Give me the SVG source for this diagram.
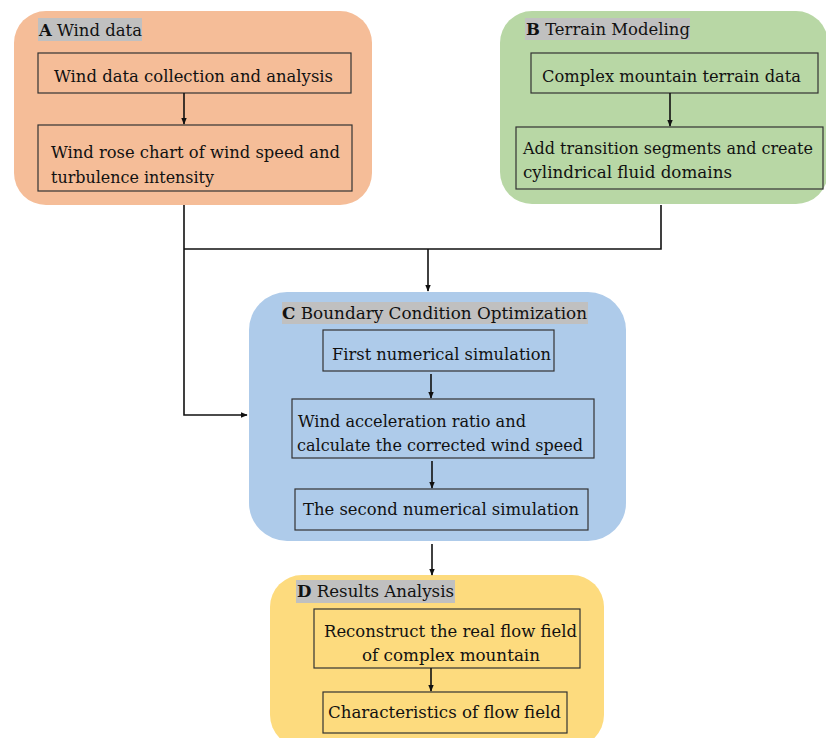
<svg xmlns="http://www.w3.org/2000/svg" width="826" height="738" viewBox="0 0 826 738">
<defs>
<style>
text{font-family:"DejaVu Serif","Liberation Serif",serif;font-size:17.5px;fill:#111}
.b{font-weight:bold}
.box{fill:none;stroke:#333;stroke-width:1.2}
.hl{fill:#c0c0c0}
.ln{fill:none;stroke:#111;stroke-width:1.6}
</style>
<marker id="ah" viewBox="0 0 10 10" refX="9" refY="5" markerWidth="7" markerHeight="7" markerUnits="userSpaceOnUse" orient="auto"><path d="M0,1 L10,5 L0,9 Z" fill="#111"/></marker>
</defs>
<rect width="826" height="738" fill="#fff"/>
<g id="panelA">
<rect x="14" y="11" width="358" height="194" rx="32" fill="#F5BD98"/>
<rect class="hl" x="38" y="18" width="104" height="23"/>
<text x="39" y="36" textLength="103" lengthAdjust="spacingAndGlyphs"><tspan class="b">A</tspan> Wind data</text>
<g id="a1"><rect class="box" x="38" y="53" width="313" height="40"/><text x="54" y="82" textLength="279" lengthAdjust="spacingAndGlyphs">Wind data collection and analysis</text></g>
<g id="a2"><rect class="box" x="38" y="125" width="314" height="66"/><text x="51" y="158" textLength="289" lengthAdjust="spacingAndGlyphs">Wind rose chart of wind speed and</text><text x="51" y="183" textLength="163" lengthAdjust="spacingAndGlyphs">turbulence intensity</text></g>
</g>
<g id="panelB">
<rect x="500" y="11" width="328" height="193" rx="32" fill="#B8D7A5"/>
<rect class="hl" x="525" y="18" width="165" height="22"/>
<text x="526" y="35" textLength="164" lengthAdjust="spacingAndGlyphs"><tspan class="b">B</tspan> Terrain Modeling</text>
<g id="b1"><rect class="box" x="531" y="53" width="287" height="40"/><text x="542" y="82" textLength="259" lengthAdjust="spacingAndGlyphs">Complex mountain terrain data</text></g>
<g id="b2"><rect class="box" x="516" y="127" width="307" height="62"/><text x="523" y="154" textLength="290" lengthAdjust="spacingAndGlyphs">Add transition segments and create</text><text x="523" y="178" textLength="209" lengthAdjust="spacingAndGlyphs">cylindrical fluid domains</text></g>
</g>
<g id="panelC">
<rect x="249" y="292" width="377" height="249" rx="38" fill="#AECBEA"/>
<rect class="hl" x="282" y="302" width="306" height="22"/>
<text x="282" y="319" textLength="305" lengthAdjust="spacingAndGlyphs"><tspan class="b">C</tspan> Boundary Condition Optimization</text>
<g id="c1"><rect class="box" x="323" y="330" width="231" height="41"/><text x="332" y="360" textLength="219" lengthAdjust="spacingAndGlyphs">First numerical simulation</text></g>
<g id="c2"><rect class="box" x="292" y="399" width="302" height="59"/><text x="298" y="427" textLength="228" lengthAdjust="spacingAndGlyphs">Wind acceleration ratio and</text><text x="297" y="451" textLength="286" lengthAdjust="spacingAndGlyphs">calculate the corrected wind speed</text></g>
<g id="c3"><rect class="box" x="295" y="489" width="293" height="41"/><text x="303" y="515" textLength="276" lengthAdjust="spacingAndGlyphs">The second numerical simulation</text></g>
</g>
<g id="panelD">
<rect x="270" y="575" width="334" height="172" rx="32" fill="#FDDB7E"/>
<rect class="hl" x="296" y="580" width="159" height="23"/>
<text x="297" y="597" textLength="157" lengthAdjust="spacingAndGlyphs"><tspan class="b">D</tspan> Results Analysis</text>
<g id="d1"><rect class="box" x="314" y="609" width="266" height="59"/><text x="324" y="637" textLength="253" lengthAdjust="spacingAndGlyphs">Reconstruct the real flow field</text><text x="362" y="661" textLength="178" lengthAdjust="spacingAndGlyphs">of complex mountain</text></g>
<g id="d2"><rect class="box" x="323" y="692" width="244" height="41"/><text x="328" y="718" textLength="233" lengthAdjust="spacingAndGlyphs">Characteristics of flow field</text></g>
</g>
<g id="connectors">
<path class="ln" d="M184,93 V124" marker-end="url(#ah)"/>
<path class="ln" d="M670,93 V126" marker-end="url(#ah)"/>
<path class="ln" d="M184,205 V415 H247" marker-end="url(#ah)"/>
<path class="ln" d="M184,249 H661 V205"/>
<path class="ln" d="M428,249 V291" marker-end="url(#ah)"/>
<path class="ln" d="M431,374 V398" marker-end="url(#ah)"/>
<path class="ln" d="M432,461 V488" marker-end="url(#ah)"/>
<path class="ln" d="M432,544 V575" marker-end="url(#ah)"/>
<path class="ln" d="M431,668 V691" marker-end="url(#ah)"/>
</g>
</svg>
